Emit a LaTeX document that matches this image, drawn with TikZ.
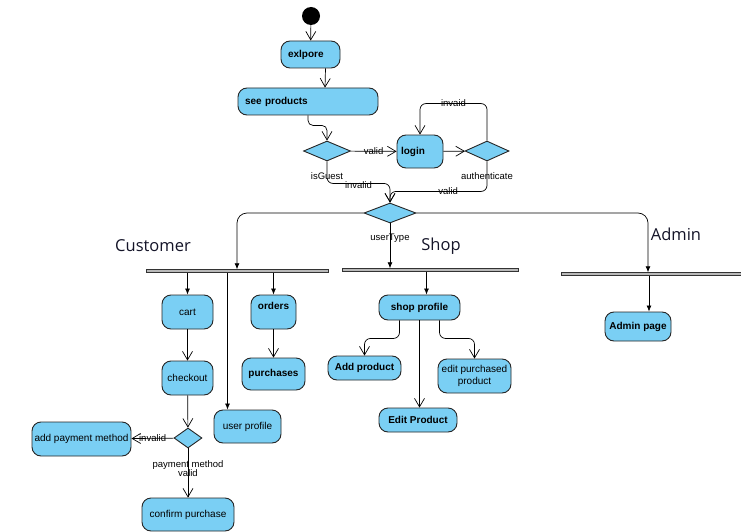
\documentclass[tikz,border=0pt]{standalone}
\usepackage{fontspec}
\setmainfont{Liberation Sans}
\newfontfamily\lanefont{Open Sans}
\usetikzlibrary{arrows.meta, shapes.geometric, positioning}
\definecolor{actblue}{RGB}{122,207,244}
\definecolor{lanetext}{RGB}{20,20,40}

\begin{document}
\begin{tikzpicture}[x = 1pt, y = -1pt, font = \fontsize{10}{12}\selectfont,
  act/.style = {draw = black!85, fill = actblue, rounded corners = 9pt, line width = 0.9pt, inner sep = 0pt, align = center},
  bact/.style = {act, font = \fontsize{10}{12}\selectfont\bfseries},
  choice/.style = {diamond, draw = black!85, fill = actblue, line width = 0.9pt, inner sep = 0pt, minimum width = #1, minimum height = 20pt},
  bar/.style = {draw = black!80, fill = gray!55, line width = 0.5pt, minimum height = 3pt, inner sep = 0pt},
  lane/.style = {font = \lanefont\fontsize{16.5}{18}\selectfont, text = lanetext},
  lbl/.style = {font = \fontsize{9.5}{11}\selectfont, inner sep = 1pt},
  open/.style = {-{Straight Barb[length = 8.5pt, width = 10pt]}, line width = 0.7pt},
  fork/.style = {-{Latex[length = 6pt, width = 5pt]}, line width = 0.7pt}]
  \useasboundingbox (0,0) rectangle (741,532);
  \node[circle, fill = black, minimum size = 18pt, inner sep = 0pt] (start) at (311,16) {};
  \node[bact, minimum width = 59pt, minimum height = 27pt, text width = 45pt, align = left] (explore) at (310.5,54.5) {exlpore};
  \node[bact, minimum width = 140pt, minimum height = 27pt, text width = 126pt, align = left] (seeprod) at (308,101.5) {see products};
  \node[choice = 47pt, label = {[lbl, label distance = 9.5pt]below:isGuest}] (isguest) at (327,151) {};
  \node[bact, minimum width = 46pt, minimum height = 33pt, text width = 38pt, align = left] (login) at (420,151.5) {login\\[3pt]};
  \node[choice = 44pt, label = {[lbl, label distance = 9.5pt]below:authenticate}] (auth) at (487,151) {};
  \node[choice = 52pt, label = {[lbl, label distance = 9.5pt]below:userType}] (usertype) at (390,213) {};

  \node[lane] (custtitle) at (153,246) {Customer};
  \node[lane] (shoptitle) at (441,246) {Shop};
  \node[lane] (admintitle) at (676,234) {Admin};
  \node[bar, minimum width = 182pt] (custbar) at (237,271) {};
  \node[bar, minimum width = 176pt] (shopbar) at (430,270) {};
  \node[bar, minimum width = 180pt] (adminbar) at (651,274) {};

  \node[act, minimum width = 51pt, minimum height = 34pt] (cart) at (187.5,312) {cart};
  \node[act, minimum width = 51pt, minimum height = 34pt] (checkout) at (187.5,378) {checkout};
  \node[choice = 28pt, label = {[lbl, label distance = 10.5pt]below:payment method}] (paycheck) at (188,438) {};
  \node[act, minimum width = 99pt, minimum height = 34pt] (addpay) at (81.5,439) {add payment method};
  \node[act, minimum width = 92pt, minimum height = 33pt] (confirm) at (188,514.5) {confirm purchase};
  \node[bact, minimum width = 45pt, minimum height = 34pt] (orders) at (273.5,312) {orders\\[1pt]};
  \node[bact, minimum width = 63pt, minimum height = 32pt] (purchases) at (273.5,374) {purchases};
  \node[act, minimum width = 67pt, minimum height = 33pt] (userprof) at (247.5,426.5) {user profile};

  \node[bact, minimum width = 81pt, minimum height = 25pt] (shopprof) at (419.5,307.5) {shop profile};
  \node[bact, minimum width = 73pt, minimum height = 24pt] (addprod) at (364.5,368) {Add product};
  \node[bact, minimum width = 78pt, minimum height = 24pt] (editprod) at (418,420) {Edit Product};
  \node[act, minimum width = 73pt, minimum height = 34pt] (editpurch) at (474.5,376) {edit purchased\\product};
  \node[bact, minimum width = 66pt, minimum height = 29pt] (adminpage) at (638,326.5) {Admin page};

  \coordinate (profin) at ([xshift = -20pt]userprof.north);
  \coordinate (shopin) at ([xshift = 7pt]shopprof.north);
  \coordinate (adminin) at ([xshift = 11pt]adminpage.north);
  \coordinate (adminfork) at ([xshift = -3pt]adminbar.north);

  \path[open]
    (start) edge (explore)
    ([xshift = 15pt]explore.south) edge ([xshift = 17pt]seeprod.north)
    (isguest) edge node[lbl] {valid} (login)
    (login) edge (auth)
    (cart) edge (checkout)
    (checkout) edge (paycheck)
    (paycheck) edge node[lbl] {invalid} (addpay)
               edge node[lbl] {valid} (confirm)
    (orders) edge (purchases)
    (shopprof.south) edge (shopprof.south |- editprod.north);
  \draw[open, rounded corners = 5pt] (seeprod.south) -- ++(0,10) -| (isguest.north);
  \draw[open, rounded corners = 6pt] (auth.north) -- ++(0,-37) -| node[lbl, pos = 0.25] {invaid} (login.north);
  \draw[open, rounded corners = 6pt] (isguest.south) -- ++(0,22) -| node[lbl, pos = 0.25, yshift = -2pt] {invalid} (usertype.north);
  \draw[open, rounded corners = 6pt] (auth.south) -- ++(0,30) -| node[lbl, pos = 0.2] {valid} (usertype.north);
  \draw[open, rounded corners = 6pt] ([xshift = -20pt]shopprof.south) -- ++(0,18) -| (addprod.north);
  \draw[open, rounded corners = 6pt] ([xshift = 20pt]shopprof.south) -- ++(0,18) -| (editpurch.north);

  \draw[fork, rounded corners = 10pt] (usertype.west) -| (custbar.north);
  \draw[fork] (usertype.south) -- (usertype.south |- shopbar.north);
  \draw[fork, rounded corners = 10pt] (usertype.east) -| (adminfork);
  \draw[fork] (cart.north |- custbar.south) -- (cart.north);
  \draw[fork] (orders.north |- custbar.south) -- (orders.north);
  \draw[fork] (profin |- custbar.south) -- (profin);
  \draw[fork] (shopin |- shopbar.south) -- (shopin);
  \draw[fork] (adminin |- adminbar.south) -- (adminin);
\end{tikzpicture}
\end{document}
